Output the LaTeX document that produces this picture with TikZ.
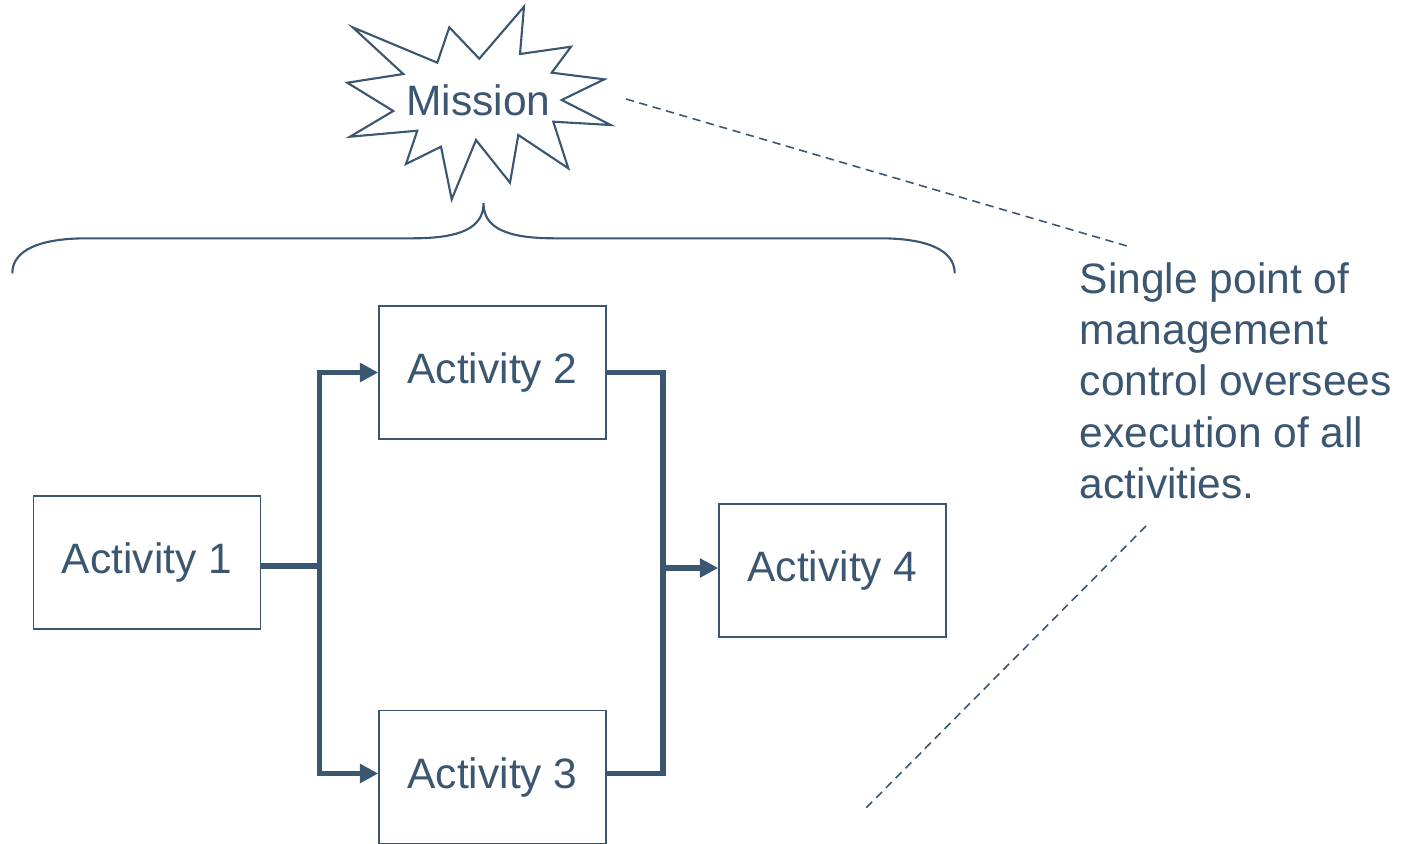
\documentclass[tikz,border=0pt]{standalone}
\usepackage{fontspec}
\setmainfont{Liberation Sans}
\usetikzlibrary{arrows.meta}
\definecolor{ink}{RGB}{59,86,112}
\begin{document}
\begin{tikzpicture}[x=0.02cm,y=-0.02cm,
  txt/.style={text=ink,font=\fontsize{24.2pt}{29.2pt}\selectfont},
  actbox/.style={txt,draw=ink,line width=0.85pt,minimum width=129.2pt,minimum height=75.7pt,inner sep=0pt},
  flow/.style={draw=ink,line width=3.1pt},
  flowarrow/.style={flow,-{Triangle[length=10.5pt,width=10.5pt]}},
  burst/.style={draw=ink,line width=1.2pt,line join=miter},
  brace/.style={draw=ink,line width=1.2pt},
  dashline/.style={draw=ink,line width=0.9pt,dash pattern=on 4.7pt off 3.2pt}]
\useasboundingbox (0,0) rectangle (1409,843);
% starburst
\draw[burst] (352.7,27.3) -- (437.3,62.7) -- (449.3,27.3) -- (479.3,58.7) -- (524,6.7) -- (520,54) -- (571,46.7) -- (551.7,72.7) -- (604.3,79.3) -- (561.7,100) -- (610.7,125) -- (553.3,121.7) -- (568.3,168.3) -- (518.3,135) -- (510,182.7) -- (476,140) -- (451.7,199.3) -- (441,146.7) -- (406,164) -- (417.3,130.7) -- (350,136.7) -- (393.3,111) -- (347.3,82.7) -- (403.3,74) -- cycle;
\node[txt,inner sep=0pt] (mission) at (478.5,100) {Mission};
% brace
\coordinate (bl) at (12.3,273.3);
\coordinate (br) at (954.7,273.3);
\coordinate (tip) at (483.5,203.3);
\draw[brace] (bl) .. controls (12.3,250) and (40,238.3) .. (87,238.3) -- (413,238.3) .. controls (460,238.3) and (483.5,228) .. (tip)
  .. controls (483.5,228) and (507,238.3) .. (554,238.3) -- (880,238.3) .. controls (927,238.3) and (954.7,250) .. (br);
% activities
\node[actbox] (a1) at (147,562.5) {Activity 1};
\node[actbox] (a2) at (492.5,372.5) {Activity 2};
\node[actbox] (a3) at (492.5,777) {Activity 3};
\node[actbox] (a4) at (832.5,570.5) {Activity 4};
% connectors
\coordinate (j1) at (319.5,566);
\coordinate (j2) at (663,568);
\draw[flow] (a1.east |- j1) -- (j1);
\draw[flowarrow] (j1) |- (a2.west);
\draw[flowarrow] (j1) |- ([yshift=2pt]a3.west);
\draw[flow] (a2.east) -| (j2);
\draw[flow] ([yshift=2pt]a3.east) -| (j2);
\draw[flowarrow] (j2) -- (a4.west |- j2);
% note
\node[txt,anchor=north west,align=left,inner sep=0pt] (note) at (1079.5,262) {Single point of\\management\\control oversees\\execution of all\\activities.};
\coordinate (d1a) at (626,99);
\coordinate (d1b) at (1129.3,246.7);
\coordinate (d2a) at (1146,526);
\coordinate (d2b) at (865,809);
\draw[dashline] (d1a) -- (d1b);
\draw[dashline] (d2a) -- (d2b);
\end{tikzpicture}
\end{document}
